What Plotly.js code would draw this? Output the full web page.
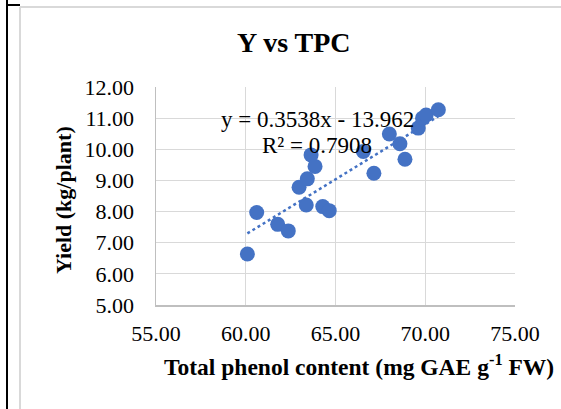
<!DOCTYPE html>
<html>
<head>
<meta charset="utf-8">
<script src="https://cdn.plot.ly/plotly-3.0.1.min.js"></script>
<style>
html,body{margin:0;padding:0;background:#fff;}
#chart{width:561px;height:409px;}
</style>
</head>
<body>
<div id="chart"></div>
<script>
// Total phenol content (mg GAE g-1 FW)
const tpc = [60.09, 60.61, 61.78, 62.37, 62.97, 63.43, 63.37, 63.64, 63.86, 64.29, 64.65,
             66.55, 67.14, 68.00, 68.59, 68.87, 69.61, 69.85, 70.05, 70.73];
// Yield (kg/plant)
const yieldVals = [6.64, 7.97, 7.59, 7.38, 8.78, 9.05, 8.21, 9.82, 9.45, 8.16, 8.03,
                   9.93, 9.23, 10.49, 10.18, 9.68, 10.68, 11.00, 11.10, 11.27];
// Linear trendline as printed on the chart
const slope = 0.3538;
const intercept = -13.962;
const r2 = 0.7908;
const xTickVals = [55, 60, 65, 70, 75];
const yTickVals = [5, 6, 7, 8, 9, 10, 11, 12];

const xMin = Math.min(...tpc), xMax = Math.max(...tpc);
const trendX = [xMin, xMax];
const trendY = trendX.map(x => slope * x + intercept);

const blue = '#4472C4';
const serif = 'Liberation Serif, Times New Roman, serif';

// plot area in pixels: x 156..515, y 87..305
const L = 156, R = 515, T = 87, B = 305;
const W = 561, H = 409;
const px = v => (v - L) / (R - L);
const py = v => (B - v) / (B - T);

const data = [
  {x: tpc, y: yieldVals, type: 'scatter', mode: 'markers',
   marker: {color: blue, size: 15}, showlegend: false, cliponaxis: false},
  {x: trendX, y: trendY, type: 'scatter', mode: 'lines',
   line: {color: blue, width: 2.5, dash: 'dot'}, showlegend: false}
];

const layout = {
  width: W, height: H,
  margin: {l: L, r: W - R, t: T, b: H - B, pad: 0},
  paper_bgcolor: '#fff', plot_bgcolor: '#fff',
  showlegend: false,
  font: {family: serif, color: '#000', size: 22},
  xaxis: {
    range: [55, 75], tickvals: xTickVals,
    ticktext: xTickVals.map(v => v.toFixed(2)),
    showgrid: true, gridcolor: '#d9d9d9', gridwidth: 1,
    showline: true, linecolor: '#bfbfbf', linewidth: 1.5,
    zeroline: false, ticks: '', ticklabelstandoff: 8,
    tickfont: {family: serif, size: 22, color: '#000'}, fixedrange: true
  },
  yaxis: {
    range: [5, 12], tickvals: yTickVals,
    ticktext: yTickVals.map(v => v.toFixed(2)),
    showgrid: true, gridcolor: '#d9d9d9', gridwidth: 1,
    showline: true, linecolor: '#bfbfbf', linewidth: 1.5,
    zeroline: false, ticks: '', ticklabelstandoff: 16,
    tickfont: {family: serif, size: 22, color: '#000'}, fixedrange: true
  },
  annotations: [
    {text: '<b>Y vs TPC</b>', xref: 'paper', yref: 'paper', x: px(294), y: py(42),
     xanchor: 'center', yanchor: 'middle', showarrow: false,
     font: {family: serif, size: 28, color: '#000'}},
    {text: '<b>Total phenol content (mg GAE g<sup>-1</sup> FW)</b>', xref: 'paper', yref: 'paper',
     x: px(359), y: py(365), xanchor: 'center', yanchor: 'middle', showarrow: false,
     font: {family: serif, size: 23.5, color: '#000'}},
    {text: '<b>Yield (kg/plant)</b>', xref: 'paper', yref: 'paper', textangle: -90,
     x: px(63), y: py(200), xanchor: 'center', yanchor: 'middle', showarrow: false,
     font: {family: serif, size: 22, color: '#000'}},
    {text: 'y = 0.3538x - 13.962', xref: 'paper', yref: 'paper',
     x: px(317), y: py(119), xanchor: 'center', yanchor: 'middle', showarrow: false,
     font: {family: serif, size: 23, color: '#000'}},
    {text: 'R² = ' + r2.toFixed(4), xref: 'paper', yref: 'paper',
     x: px(317), y: py(145), xanchor: 'center', yanchor: 'middle', showarrow: false,
     font: {family: serif, size: 23, color: '#000'}}
  ],
  shapes: [
    // outer document frame (black)
    {type: 'line', xref: 'paper', yref: 'paper', x0: px(7), x1: px(7), y0: py(0), y1: py(H),
     line: {color: '#000', width: 2}},
    {type: 'line', xref: 'paper', yref: 'paper', x0: px(7), x1: px(20), y0: py(5), y1: py(5),
     line: {color: '#000', width: 2}},
    // chart area border (gray)
    {type: 'line', xref: 'paper', yref: 'paper', x0: px(20), x1: px(W), y0: py(7), y1: py(7),
     line: {color: '#d9d9d9', width: 2}},
    {type: 'line', xref: 'paper', yref: 'paper', x0: px(20), x1: px(20), y0: py(7), y1: py(H),
     line: {color: '#d9d9d9', width: 2}}
  ]
};

Plotly.newPlot('chart', data, layout, {displayModeBar: false, staticPlot: true});
</script>
</body>
</html>
